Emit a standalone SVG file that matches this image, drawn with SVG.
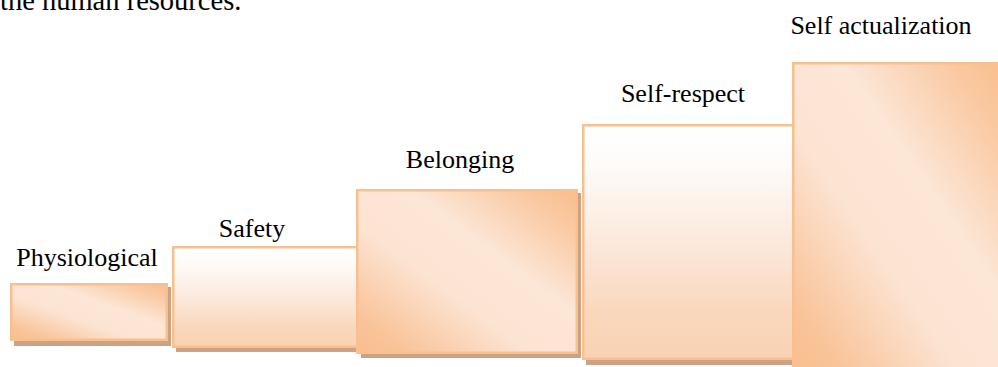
<svg xmlns="http://www.w3.org/2000/svg" width="998" height="367" viewBox="0 0 998 367">
  <defs>
    <linearGradient id="diag" x1="0" y1="1" x2="1" y2="0">
      <stop offset="0" stop-color="#F9BE8D"/>
      <stop offset="0.12" stop-color="#F9C49A"/>
      <stop offset="0.4" stop-color="#FCE4D3"/>
      <stop offset="0.62" stop-color="#FCE6D6"/>
      <stop offset="0.88" stop-color="#FAC8A0"/>
      <stop offset="1" stop-color="#F9BE8D"/>
    </linearGradient>
    <linearGradient id="vert" x1="0" y1="0" x2="0" y2="1">
      <stop offset="0" stop-color="#FFFFFF"/>
      <stop offset="0.15" stop-color="#FEFCFA"/>
      <stop offset="0.5" stop-color="#FCE9DC"/>
      <stop offset="0.8" stop-color="#FAD7BC"/>
      <stop offset="1" stop-color="#F9D2B3"/>
    </linearGradient>
  </defs>
  <style>
    text { font-family: "Liberation Serif", "Times New Roman", serif; font-size: 26px; fill: #000; }
    .shadow { fill: #CBA283; }
    .box { stroke: #F9C08F; stroke-width: 2.5; }
  </style>
  <text x="0" y="10" style="font-size:28.5px">the human resources.</text>
  <g id="physiological">
    <rect class="shadow" x="14" y="287" width="157" height="59"/>
    <rect class="box" x="11.25" y="284.25" width="155.5" height="55.5" fill="url(#diag)"/>
    <text x="87" y="266" text-anchor="middle">Physiological</text>
  </g>
  <g id="safety">
    <rect class="shadow" x="176" y="250" width="186" height="102"/>
    <rect class="box" x="173.25" y="247.25" width="186" height="99.5" fill="url(#vert)"/>
    <text x="252" y="237" text-anchor="middle">Safety</text>
  </g>
  <g id="belonging">
    <rect class="shadow" x="361" y="193" width="220" height="165"/>
    <rect class="box" x="357.25" y="190.25" width="219.5" height="162.5" fill="url(#diag)"/>
    <text x="460" y="168" text-anchor="middle">Belonging</text>
  </g>
  <g id="self-respect">
    <rect class="shadow" x="586" y="128" width="212" height="237"/>
    <rect class="box" x="583.25" y="125.25" width="212" height="233.5" fill="url(#vert)"/>
    <text x="683" y="102" text-anchor="middle">Self-respect</text>
  </g>
  <g id="self-actualization">
    <rect class="box" x="793.25" y="63.25" width="212" height="310" fill="url(#diag)"/>
    <text x="881" y="34" text-anchor="middle">Self actualization</text>
  </g>
  <g id="connectors"/>
</svg>
